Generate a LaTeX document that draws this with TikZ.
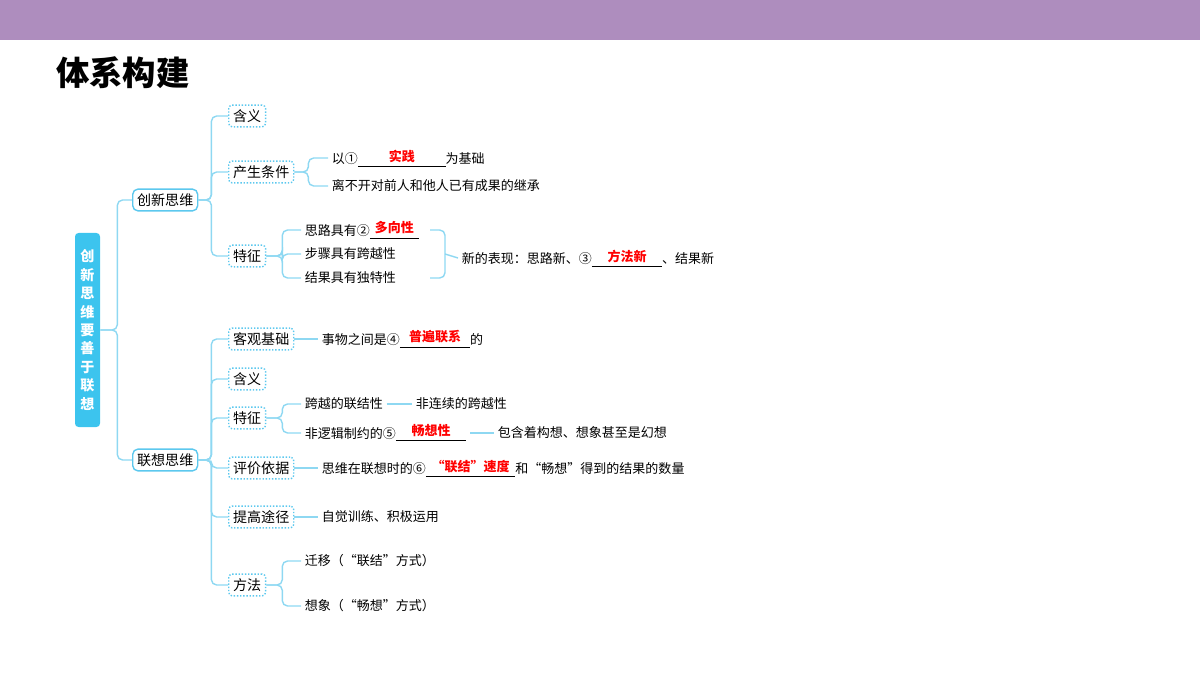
\documentclass[tikz,border=0pt]{standalone}
\usepackage{fontspec}
\setmainfont{Noto Sans CJK SC}
\usetikzlibrary{positioning}
\definecolor{barpurple}{HTML}{AE8DBE}
\definecolor{rootblue}{HTML}{3CC4EE}
\definecolor{linkblue}{HTML}{8ED8F2}
\definecolor{boxblue}{HTML}{5CC8EE}
\newcommand\fillin[2]{\rlap{\rule[-1.5pt]{#1}{0.4pt}}\makebox[#1]{\raisebox{1.5pt}{\color{red}\bfseries #2}}}
\begin{document}
\begin{tikzpicture}[x=0.02cm,y=-0.02cm,font=\fontsize{7.4}{8}\selectfont,
  mainbox/.style={draw=boxblue,thick,rounded corners=3pt,fill=white,inner sep=2.5pt,font=\fontsize{8}{9}\selectfont,anchor=west},
  subbox/.style={draw=boxblue,thick,densely dotted,rounded corners=2pt,inner sep=2.5pt,font=\fontsize{8}{9}\selectfont,anchor=west},
  leaf/.style={anchor=west,inner sep=2pt},
  link/.style={draw=linkblue,thick,rounded corners=3pt}]
\useasboundingbox (0,0) rectangle (1200,675);
\fill[barpurple] (0,0) rectangle (1200,40);
\node[anchor=west,font=\fontsize{19}{20}\selectfont\bfseries] (title) at (50,73) {体系构建};

% root
\node[fill=rootblue,rounded corners=2pt,text=white,font=\fontsize{8}{10.5}\selectfont\bfseries,
  minimum width=25*0.02cm,minimum height=194*0.02cm,align=center,inner sep=0pt] (root) at (87.5,330)
  {创\\新\\思\\维\\要\\善\\于\\联\\想};
\node[mainbox] (cx) at (132,200) {创新思维};
\node[mainbox] (lx) at (132,460) {联想思维};
\draw[link] (root.east) -- ++(17,0) |- (cx.west);
\draw[link] (root.east) -- ++(17,0) |- (lx.west);

% innovative thinking
\node[subbox] (hy1) at (228,116) {含义};
\node[subbox] (tj) at (228,172) {产生条件};
\node[subbox] (tz1) at (228,256) {特征};
\foreach \n in {hy1,tj,tz1} \draw[link] (cx.east) -- ++(13,0) |- (\n.west);

\node[leaf] (tj1) at (328,158) {以①\fillin{50pt}{实践}为基础};
\node[leaf] (tj2) at (328,186) {离不开对前人和他人已有成果的继承};
\foreach \n in {tj1,tj2} \draw[link] (tj.east) -- ++(14,0) |- (\n.west);

\node[leaf] (tz11) at (301,230) {思路具有②\fillin{28pt}{多向性}};
\node[leaf] (tz12) at (301,254) {步骤具有跨越性};
\node[leaf] (tz13) at (301,278) {结果具有独特性};
\foreach \n in {tz11,tz12,tz13} \draw[link] (tz1.east) -- ++(16,0) |- (\n.west);
\coordinate (br) at (445,254);
\draw[link] (430,230) -| (br) |- (430,278);
\node[leaf] (xbx) at (458,258) {新的表现：思路新、③\fillin{40pt}{方法新}、结果新};
\draw[link] (br) -- (xbx.west);

% associative thinking
\node[subbox] (kg) at (228,339) {客观基础};
\node[subbox] (hy2) at (228,379) {含义};
\node[subbox] (tz2) at (228,418) {特征};
\node[subbox] (pj) at (228,468) {评价依据};
\node[subbox] (tg) at (228,517) {提高途径};
\node[subbox] (ff) at (228,585) {方法};
\foreach \n in {kg,hy2,tz2,pj,tg,ff} \draw[link] (lx.east) -- ++(13,0) |- (\n.west);

\node[leaf] (kg1) at (318,339) {事物之间是④\fillin{40pt}{普遍联系}的};
\draw[link] (kg) -- (kg1);
\node[leaf] (tz21) at (301,404) {跨越的联结性};
\node[leaf] (tz21b) at (412,404) {非连续的跨越性};
\draw[link] (tz21) -- (tz21b);
\node[leaf] (tz22) at (301,433) {非逻辑制约的⑤\fillin{40pt}{畅想性}};
\node[leaf] (tz22b) at (494,433) {包含着构想、想象甚至是幻想};
\draw[link] (tz22) -- (tz22b);
\foreach \n in {tz21,tz22} \draw[link] (tz2.east) -- ++(16,0) |- (\n.west);
\node[leaf] (pj1) at (318,468) {思维在联想时的⑥\fillin{51pt}{“联结”速度}和“畅想”得到的结果的数量};
\draw[link] (pj) -- (pj1);
\node[leaf] (tg1) at (318,517) {自觉训练、积极运用};
\draw[link] (tg) -- (tg1);
\node[leaf] (ff1) at (301,561) {迁移（“联结”方式）};
\node[leaf] (ff2) at (301,606) {想象（“畅想”方式）};
\foreach \n in {ff1,ff2} \draw[link] (ff.east) -- ++(16,0) |- (\n.west);
\end{tikzpicture}
\end{document}
